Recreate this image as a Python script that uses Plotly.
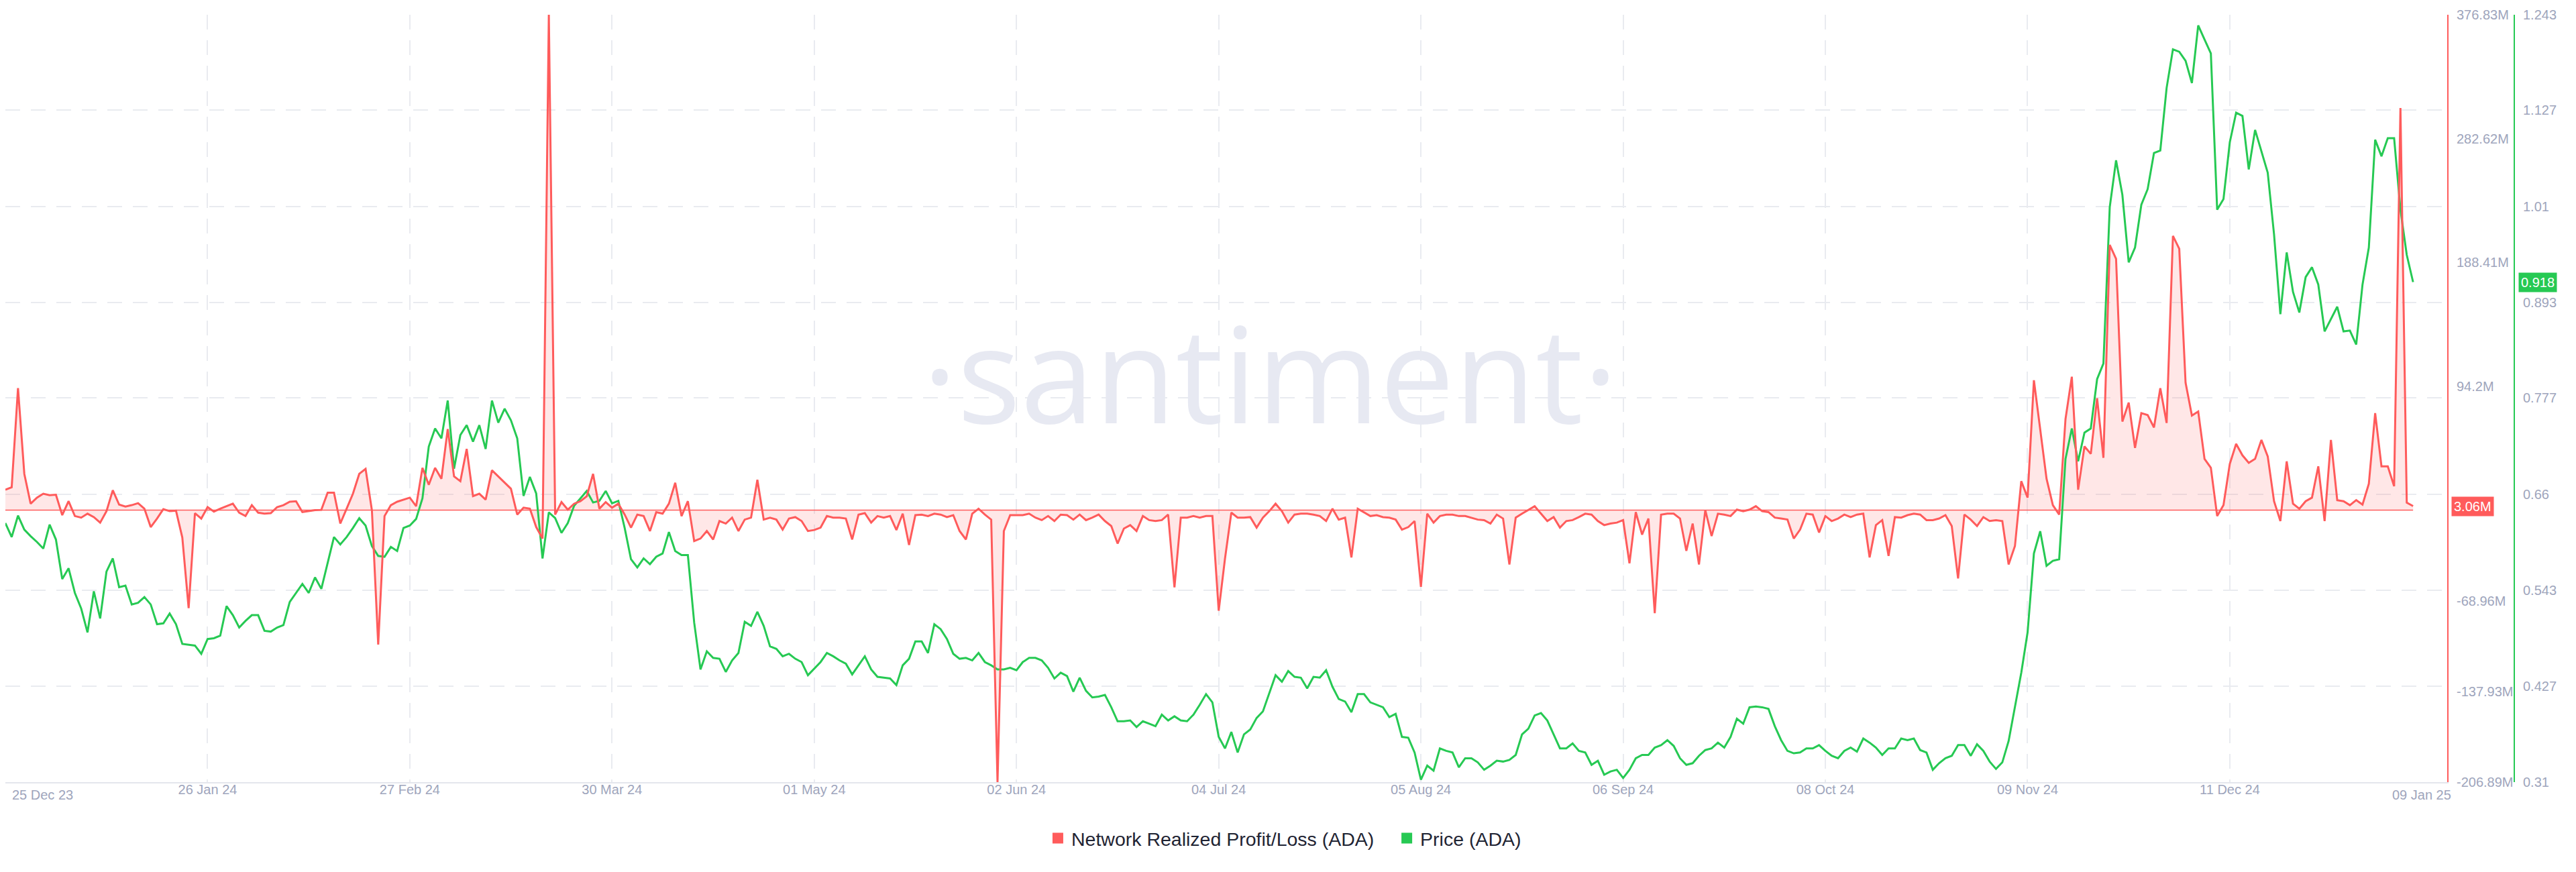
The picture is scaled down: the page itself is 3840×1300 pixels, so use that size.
import pandas as pd
import plotly.graph_objects as go

# ---------------- data ----------------
start_date = "2023-12-25"

# Network Realized Profit/Loss, millions of ADA, daily
nrpl_m = [
    15.5, 17.4, 92.8, 27.6, 4.9, 9.5, 12.5, 11.4, 11.7, -3.8,
    6.8, -4.5, -5.7, -2.7, -5.3, -9.5, -0.8, 15.1, 4.2, 2.7,
    3.8, 5.3, 1.1, -12.9, -6.4, 0.8, -0.8, -0.4, -20.8, -74.6,
    -2.3, -6.4, 2.3, -1.1, 1.1, 3.0, 4.9, -1.9, -4.5, 3.8,
    -1.9, -2.7, -2.3, 2.3, 3.8, 6.4, 6.8, -1.5, -0.8, 0.0,
    0.2, 13.3, 13.3, -10.2, 1.1, 12.5, 27.6, 31.4, 0.0, -102.2,
    -4.5, 3.8, 6.4, 8.0, 9.5, 3.0, 32.2, 19.3, 32.2, 23.9,
    61.7, 25.7, 22.0, 46.6, 10.6, 12.5, 8.0, 30.3, 25.7, 20.8,
    16.3, -3.4, 1.9, 1.1, -12.9, -21.6, 376.83, -3.4, 6.1, 0.4,
    4.9, 6.8, 10.6, 27.6, 1.1, 6.1, 1.9, 4.9,
    -3.4, -13.3, -3.4, -4.5, -15.9, -1.5, -2.7, 4.9, 20.8, -4.5,
    6.8, -23.5, -21.6, -15.9, -22.3, -8.3, -10.2, -5.7, -15.9, -7.2,
    -5.7, 23.1, -7.2, -5.7, -7.2, -14.8, -6.4, -5.3, -8.3, -15.9,
    -15.1, -13.3, -4.5, -5.7, -5.7, -6.4, -22.3, -3.4, -2.3, -9.5,
    -4.5, -5.7, -4.5, -15.1, -2.7, -26.5, -3.8, -3.4, -4.5, -2.7,
    -3.4, -5.3, -3.8, -15.9, -22.3, -2.7, 1.1, -3.4, -7.2, -206.89,
    -15.9, -3.8, -3.8, -3.8, -2.7, -5.7, -7.6, -4.5, -8.3, -3.4,
    -3.8, -7.2, -3.4, -7.6, -5.7, -3.4, -8.3, -12.1, -25.4, -14.0,
    -11.4, -15.9, -4.5, -7.6, -8.3, -7.6, -3.4, -58.7, -5.7, -5.7,
    -4.5, -5.7, -4.5, -4.5, -76.5, -36.7, -1.9,
    -5.7, -5.7, -5.3, -13.3, -5.7, -0.8, 4.9, -0.8, -9.5, -3.4,
    -2.7, -2.7, -3.4, -4.5, -8.3, 1.1, -7.2, -5.7, -36.0, 1.1,
    -1.9, -4.5, -3.8, -5.3, -5.7, -7.2, -14.8, -12.9, -8.3, -58.3,
    -2.7, -9.5, -4.5, -3.4, -3.4, -4.5, -4.5, -5.7, -7.2, -7.6,
    -10.2, -3.4, -6.4, -41.3, -5.7, -2.7, 0.0, 3.0, -2.7, -8.3,
    -5.3, -13.3, -8.3, -7.6, -5.3, -2.7, -3.4, -8.3, -11.4, -10.2,
    -9.5, -7.6, -40.5, -1.5, -18.6, -6.4, -78.4, -3.4, -2.7, -2.7,
    -6.4, -31.0, -10.2, -41.3, 0.0, -19.7, -2.7, -3.4, -4.5, 0.4,
    -0.8, 0.4, 3.0, -0.8, -1.5, -5.7, -6.4, -7.2, -21.6, -14.8,
    -2.7, -3.4, -17.0, -4.5, -8.3, -6.4, -3.4,
    -5.3, -3.4, -2.7, -36.0, -11.4, -7.6, -34.8, -5.3, -5.7, -3.8,
    -2.7, -3.4, -7.6, -7.6, -6.4, -3.8, -12.1, -51.9, -3.4, -7.2,
    -12.1, -5.3, -8.3, -7.6, -8.3, -41.3, -27.3, 22.0, 9.5, 98.8,
    61.7, 23.9, 3.8, -3.4, 69.3, 101.5, 15.5, 48.5, 42.8, 85.2,
    39.8, 201.8, 191.2, 67.4, 81.8, 47.3, 73.8, 72.3, 62.9, 92.8,
    66.3, 208.6, 198.8, 96.9, 71.9, 75.0, 39.0, 32.2, -4.5, 3.8,
    35.2, 50.4, 41.7, 36.0, 39.0, 53.4, 40.9, 6.8, -8.3, 37.1,
    4.9, 1.1, 6.8, 9.5, 33.3, -8.3, 53.4, 7.6, 6.8, 3.8,
    7.6, 4.2, 20.1, 73.8, 33.3, 33.3, 18.2, 305.9, 5.7, 3.06,
]

# ADA price in USD, daily
price_usd = [
    0.625, 0.608, 0.634, 0.617, 0.609, 0.602, 0.594, 0.623, 0.605, 0.557,
    0.570, 0.540, 0.521, 0.492, 0.542, 0.509, 0.566, 0.582, 0.547, 0.549,
    0.526, 0.528, 0.535, 0.526, 0.502, 0.503, 0.515, 0.502, 0.478, 0.477,
    0.476, 0.466, 0.484, 0.485, 0.488, 0.524, 0.513, 0.498, 0.506, 0.513,
    0.513, 0.494, 0.493, 0.498, 0.501, 0.529, 0.540, 0.551, 0.540, 0.559,
    0.545, 0.576, 0.608, 0.599, 0.608, 0.619, 0.631, 0.622, 0.597, 0.585,
    0.584, 0.596, 0.591, 0.619, 0.622, 0.630, 0.655, 0.718, 0.740, 0.728,
    0.774, 0.691, 0.732, 0.744, 0.724, 0.744, 0.715, 0.774, 0.747, 0.764,
    0.750, 0.728, 0.658, 0.681, 0.661, 0.582, 0.638, 0.631, 0.613, 0.625,
    0.646, 0.655, 0.664, 0.650, 0.652, 0.664, 0.649, 0.652,
    0.619, 0.581, 0.571, 0.582, 0.575, 0.584, 0.588, 0.614, 0.591, 0.586,
    0.586, 0.504, 0.447, 0.469, 0.461, 0.460, 0.444, 0.458, 0.467, 0.505,
    0.500, 0.517, 0.500, 0.475, 0.472, 0.463, 0.466, 0.460, 0.456, 0.440,
    0.448, 0.456, 0.467, 0.463, 0.458, 0.454, 0.441, 0.452, 0.463, 0.447,
    0.438, 0.437, 0.436, 0.428, 0.452, 0.460, 0.481, 0.481, 0.467, 0.502,
    0.496, 0.484, 0.466, 0.460, 0.461, 0.458, 0.467, 0.456, 0.452, 0.447,
    0.447, 0.449, 0.446, 0.456, 0.461, 0.461, 0.458, 0.449, 0.436, 0.443,
    0.439, 0.420, 0.437, 0.421, 0.413, 0.414, 0.416, 0.401, 0.384, 0.384,
    0.385, 0.377, 0.384, 0.381, 0.378, 0.392, 0.385, 0.390, 0.385, 0.384,
    0.392, 0.404, 0.417, 0.407, 0.365, 0.351, 0.371,
    0.346, 0.368, 0.374, 0.388, 0.396, 0.418, 0.440, 0.432, 0.445, 0.438,
    0.437, 0.424, 0.438, 0.437, 0.446, 0.426, 0.411, 0.408, 0.395, 0.417,
    0.417, 0.407, 0.404, 0.401, 0.389, 0.393, 0.365, 0.364, 0.346, 0.313,
    0.330, 0.324, 0.351, 0.348, 0.346, 0.328, 0.339, 0.339, 0.334, 0.325,
    0.330, 0.336, 0.335, 0.337, 0.343, 0.368, 0.375, 0.391, 0.394, 0.385,
    0.368, 0.351, 0.351, 0.357, 0.348, 0.346, 0.331, 0.336, 0.319, 0.323,
    0.325, 0.315, 0.325, 0.339, 0.343, 0.343, 0.352, 0.355, 0.361, 0.354,
    0.339, 0.331, 0.333, 0.342, 0.349, 0.351, 0.358, 0.352, 0.365, 0.387,
    0.381, 0.401, 0.402, 0.401, 0.399, 0.378, 0.361, 0.348, 0.345, 0.346,
    0.351, 0.351, 0.355, 0.348, 0.342, 0.339, 0.348,
    0.352, 0.347, 0.363, 0.358, 0.352, 0.343, 0.351, 0.351, 0.363, 0.361,
    0.363, 0.349, 0.346, 0.325, 0.333, 0.339, 0.342, 0.355, 0.355, 0.342,
    0.356, 0.348, 0.335, 0.326, 0.334, 0.360, 0.401, 0.443, 0.492, 0.588,
    0.615, 0.573, 0.579, 0.581, 0.703, 0.740, 0.700, 0.735, 0.740, 0.800,
    0.819, 1.009, 1.066, 1.024, 0.942, 0.960, 1.012, 1.031, 1.075, 1.078,
    1.154, 1.201, 1.198, 1.187, 1.160, 1.230, 1.213, 1.196, 1.006, 1.019,
    1.088, 1.124, 1.120, 1.055, 1.103, 1.078, 1.051, 0.976, 0.879, 0.954,
    0.906, 0.881, 0.924, 0.936, 0.915, 0.858, 0.873, 0.888, 0.858, 0.859,
    0.842, 0.915, 0.960, 1.091, 1.071, 1.093, 1.093, 1.006, 0.951, 0.918,
]

nrpl_ticks = [376.83, 282.62, 188.41, 94.2, -68.96, -137.93, -206.89]
price_ticks = [1.243, 1.127, 1.01, 0.893, 0.777, 0.66, 0.543, 0.427, 0.31]
date_tick_count = 12
date_tick_step = "32D"
x_end = "2025-01-14 09:36"

series_names = ["Network Realized Profit/Loss (ADA)", "Price (ADA)"]

# ---------------- styling ----------------
RED = "#ff5b5b"
GREEN = "#26c953"
FILL = "rgba(255,91,91,0.15)"
GRID = "#e9ebf0"
TICK = "#9ea5bc"
FONT = "Liberation Sans, Arial, sans-serif"
W, H = 3840, 1300
PLOT_RIGHT = 3640
GREEN_AXIS_X = 3740
DATE_LABEL_Y = -0.0166

dates = pd.date_range(start_date, periods=len(price_usd), freq="D")
date_ticks = pd.date_range(start_date, periods=date_tick_count, freq=date_tick_step)
date_text = [""] + [d.strftime("%d %b %y") for d in date_ticks[1:]]

fig = go.Figure()

# area fill of NRPL
fig.add_trace(go.Scatter(
    x=dates, y=nrpl_m, yaxis="y", mode="lines", line=dict(width=0, color=RED),
    fill="tozeroy", fillcolor=FILL, showlegend=False, hoverinfo="skip"))
# zero base line of the area
fig.add_trace(go.Scatter(
    x=[dates[0], dates[-1]], y=[0, 0], yaxis="y", mode="lines",
    line=dict(width=1.5, color=RED), showlegend=False, hoverinfo="skip"))
# price line
fig.add_trace(go.Scatter(
    x=dates, y=price_usd, yaxis="y2", mode="lines",
    line=dict(width=3, color=GREEN), showlegend=False, name=series_names[1]))
# NRPL line on top
fig.add_trace(go.Scatter(
    x=dates, y=nrpl_m, yaxis="y3", mode="lines",
    line=dict(width=3, color=RED), showlegend=False, name=series_names[0]))

# legend entries (square swatches)
fig.add_trace(go.Scatter(x=[None], y=[None], mode="markers",
                         name=series_names[0] + "\u00a0\u00a0\u00a0",
                         marker=dict(symbol="square", size=18, color=RED)))
fig.add_trace(go.Scatter(x=[None], y=[None], mode="markers", name=series_names[1],
                         marker=dict(symbol="square", size=18, color=GREEN)))

nrpl_range = [min(nrpl_m), max(nrpl_m)]
price_range = [min(price_ticks), max(price_ticks)]

fig.update_layout(
    width=W, height=H, template="none",
    paper_bgcolor="white", plot_bgcolor="white",
    margin=dict(l=0, r=0, t=14, b=142, autoexpand=False),
    font=dict(family=FONT, size=20, color=TICK),
    xaxis=dict(
        domain=[0, PLOT_RIGHT / W], range=[dates[0], pd.Timestamp(x_end)],
        tickmode="array", tickvals=date_ticks, ticktext=date_text,
        showgrid=True, gridcolor=GRID, gridwidth=2, griddash="22px,16px",
        showline=True, linecolor="#e4e6ec", linewidth=2, ticks="",
        tickfont=dict(size=20, color=TICK), zeroline=False, automargin=False,
        ticklabelstandoff=-8),
    yaxis=dict(
        range=nrpl_range, side="right", anchor="x",
        tickmode="array", tickvals=nrpl_ticks, ticktext=[f"{v:g}M" for v in nrpl_ticks],
        showgrid=False, zeroline=False, showline=True, linecolor=RED, linewidth=2,
        ticks="", tickfont=dict(size=20, color=TICK), automargin=False,
        ticklabelstandoff=8),
    yaxis2=dict(
        range=price_range, overlaying="y", side="right", anchor="free",
        position=GREEN_AXIS_X / W,
        tickmode="array", tickvals=price_ticks, ticktext=[f"{v:g}" for v in price_ticks],
        showgrid=True, gridcolor=GRID, gridwidth=2, griddash="22px,16px",
        zeroline=False, showline=True, linecolor=GREEN, linewidth=2,
        ticks="", tickfont=dict(size=20, color=TICK), automargin=False,
        ticklabelstandoff=8),
    yaxis3=dict(range=nrpl_range, overlaying="y", visible=False),
    legend=dict(orientation="h", x=0.4966, xanchor="center", y=-0.0735, yanchor="middle",
                font=dict(size=28.5, color="#1f2433", family=FONT),
                bgcolor="rgba(0,0,0,0)"),
    showlegend=True,
)

annotations = [
    # watermark
    dict(text="\u00b7santiment\u00b7", xref="paper", yref="paper", x=1885 / W, y=0.535,
         xanchor="center", yanchor="middle", showarrow=False,
         font=dict(family="Open Sans, sans-serif", size=198, color="#e7e9f2")),
    # first / last date labels
    dict(text=dates[0].strftime("%d %b %y"), xref="paper", yref="paper", x=8 / W, y=DATE_LABEL_Y,
         xanchor="left", yanchor="middle", showarrow=False, font=dict(size=20, color=TICK)),
    dict(text=dates[-1].strftime("%d %b %y"), xref="paper", yref="paper", x=3648 / W, y=DATE_LABEL_Y,
         xanchor="right", yanchor="middle", showarrow=False, font=dict(size=20, color=TICK)),
    # last value badges
    dict(text=f"{nrpl_m[-1]:.2f}M", xref="paper", yref="y", x=3646 / W, y=nrpl_m[-1],
         xanchor="left", yanchor="middle", showarrow=False, bgcolor=RED, borderpad=3,
         font=dict(size=20, color="white")),
    dict(text=f"{price_usd[-1]:.3f}", xref="paper", yref="y2", x=3746 / W, y=price_usd[-1],
         xanchor="left", yanchor="middle", showarrow=False, bgcolor=GREEN, borderpad=3,
         font=dict(size=20, color="white")),
]
fig.update_layout(annotations=annotations)

fig.write_html("out.html")
